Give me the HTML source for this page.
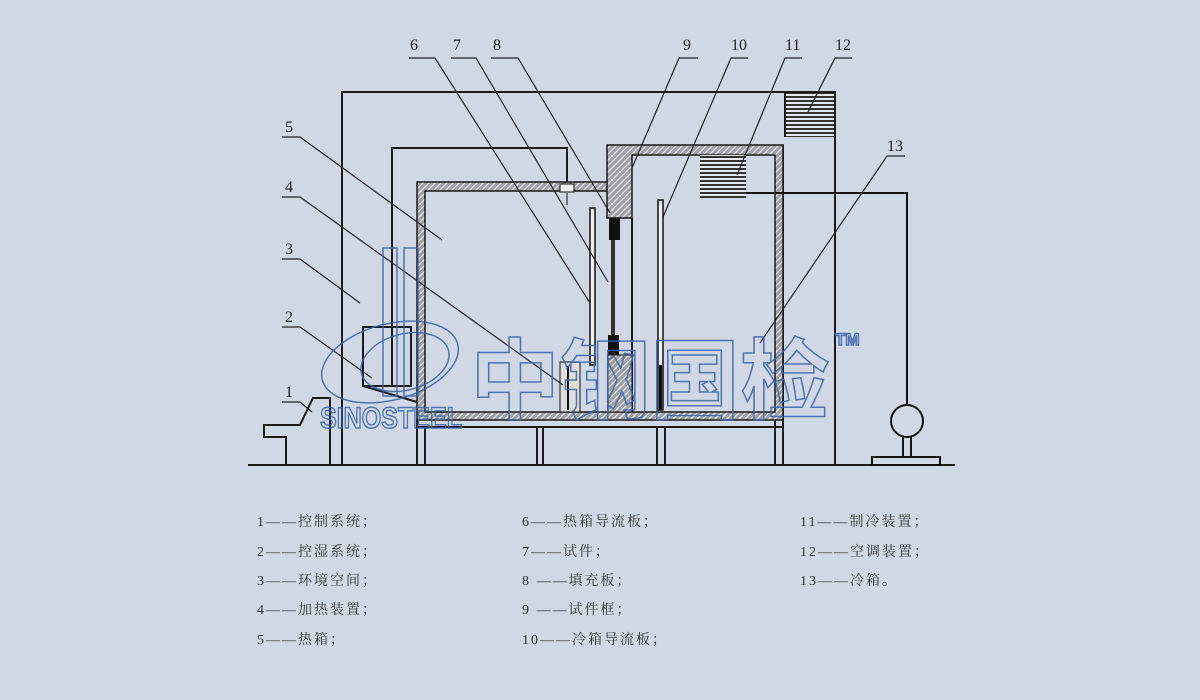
<!DOCTYPE html>
<html><head><meta charset="utf-8"><style>
body{margin:0;background:#d0d8e5;}
svg{display:block}
.t{font-family:"Liberation Serif","Noto Serif CJK SC",serif;fill:#222}
.lg{font-family:"Liberation Serif","Noto Serif CJK SC",serif;fill:#333;font-size:14px;letter-spacing:2px}
</style></head><body>
<svg width="1200" height="700" viewBox="0 0 1200 700" xmlns="http://www.w3.org/2000/svg">
<defs>
<pattern id="h" width="6" height="6" patternUnits="userSpaceOnUse">
<rect width="6" height="6" fill="#9a9ea6"/><path d="M0 6L6 0M-1 1L1 -1M5 7L7 5" stroke="#f0f0f0" stroke-width="1.3"/>
</pattern>
<pattern id="v" width="4" height="4" patternUnits="userSpaceOnUse">
<rect width="4" height="4" fill="#e4e8ef"/><rect width="4" height="2" fill="#333"/>
</pattern>
</defs>
<rect width="1200" height="700" fill="#d0d8e5"/>
<g stroke="#1a1a1a" stroke-width="2" fill="none">
<line x1="248" y1="465" x2="955" y2="465"/>
<polyline points="342,465 342,92 835,92 835,465"/>
<polyline points="286,465 286,437 264,437 264,425 300,425 313,398 328,398 330,398 330,465"/>
<polyline points="392,385 392,148 567,148 567,182"/>
<rect x="363" y="327" width="48" height="59"/>
<line x1="363" y1="386" x2="417" y2="402"/>
<line x1="417" y1="427" x2="783" y2="427"/>
<line x1="417" y1="420" x2="417" y2="465"/><line x1="425" y1="427" x2="425" y2="465"/>
<line x1="537" y1="427" x2="537" y2="465"/><line x1="543" y1="427" x2="543" y2="465"/>
<line x1="657" y1="427" x2="657" y2="465"/><line x1="665" y1="427" x2="665" y2="465"/>
<line x1="775" y1="420" x2="775" y2="465"/><line x1="783" y1="145" x2="783" y2="465"/>
</g>
<g fill="url(#h)" stroke="#1a1a1a" stroke-width="1.5">
<path d="M417,182 H607 V191 H425 V412 H775 V155 H632 V218 H607 V145 H783 V420 H417 Z"/>
</g>
<line x1="632" y1="218" x2="632" y2="412" stroke="#1a1a1a" stroke-width="2"/>
<rect x="560" y="184" width="14" height="8" fill="#eee" stroke="#111"/>
<line x1="567" y1="193" x2="567" y2="205" stroke="#111"/>
<rect x="590" y="208" width="5" height="157" fill="#eee" stroke="#111" stroke-width="1.5"/>
<rect x="609" y="218" width="11" height="22" fill="#111"/>
<rect x="611" y="240" width="4" height="95" fill="#333"/>
<rect x="608" y="335" width="11" height="20" fill="#111"/>
<rect x="608" y="355" width="24" height="57" fill="url(#h)" stroke="#111"/>
<rect x="560" y="362" width="20" height="50" fill="#ddd" stroke="#111"/>
<line x1="568" y1="366" x2="568" y2="410" stroke="#111" stroke-width="2"/>
<rect x="658" y="200" width="5" height="210" fill="#eee" stroke="#111" stroke-width="1.5"/>
<rect x="659" y="365" width="3" height="45" fill="#111"/>
<rect x="786" y="93" width="48" height="44" fill="url(#v)"/>
<line x1="785" y1="93" x2="785" y2="137" stroke="#111" stroke-width="2"/>
<rect x="700" y="155" width="46" height="43" fill="url(#v)"/>
<polyline points="746,193 907,193 907,405" fill="none" stroke="#111" stroke-width="2"/>
<circle cx="907" cy="421" r="16" fill="none" stroke="#111" stroke-width="2"/>
<line x1="903" y1="437" x2="903" y2="457" stroke="#111" stroke-width="2"/>
<line x1="911" y1="437" x2="911" y2="457" stroke="#111" stroke-width="2"/>
<rect x="872" y="457" width="68" height="8" fill="none" stroke="#111" stroke-width="2"/>
<g stroke="#222" stroke-width="1.2" fill="none">
<polyline points="409,58 435,58 590,303"/>
<polyline points="451,58 476,58 608,282"/>
<polyline points="491,58 518,58 610,213"/>
<polyline points="698,58 679,58 632,168"/>
<polyline points="748,58 731,58 663,217"/>
<polyline points="802,58 785,58 737,175"/>
<polyline points="852,58 835,58 808,112"/>
<polyline points="905,156 887,156 760,343"/>
<polyline points="282,137 300,137 442,240"/>
<polyline points="282,197 300,197 563,385"/>
<polyline points="282,259 300,259 360,303"/>
<polyline points="282,327 300,327 372,378"/>
<polyline points="282,402 300,402 312,412"/>
</g>
<g class="t" font-size="16">
<text x="410" y="50">6</text><text x="453" y="50">7</text><text x="493" y="50">8</text>
<text x="683" y="50">9</text><text x="731" y="50">10</text><text x="785" y="50">11</text><text x="835" y="50">12</text>
<text x="887" y="151">13</text>
<text x="285" y="132">5</text><text x="285" y="192">4</text><text x="285" y="254">3</text><text x="285" y="322">2</text><text x="285" y="397">1</text>
</g>
<g fill="none" stroke="#3a62a8" stroke-width="1.5" opacity="0.85">
<ellipse cx="390" cy="362" rx="70" ry="38" transform="rotate(-15 390 362)"/>
<ellipse cx="405" cy="362" rx="45" ry="28" transform="rotate(-15 405 362)"/>
<rect x="383" y="248" width="14" height="148"/>
<rect x="404" y="248" width="14" height="148"/>
<text x="470" y="412" font-family="Noto Sans CJK SC,sans-serif" font-weight="bold" font-size="88" textLength="360" lengthAdjust="spacingAndGlyphs">中钢国检</text>
<text x="320" y="428" font-family="Liberation Sans,sans-serif" font-weight="bold" font-size="30" textLength="142" lengthAdjust="spacingAndGlyphs">SINOSTEEL</text>
<text x="835" y="345" font-family="Liberation Sans,sans-serif" font-weight="bold" font-size="17">TM</text>
</g>
<g class="lg">
<text x="257" y="526">1——控制系统；</text>
<text x="257" y="556">2——控湿系统；</text>
<text x="257" y="585">3——环境空间；</text>
<text x="257" y="614">4——加热装置；</text>
<text x="257" y="644">5——热箱；</text>
<text x="522" y="526">6——热箱导流板；</text>
<text x="522" y="556">7——试件；</text>
<text x="522" y="585">8 ——填充板；</text>
<text x="522" y="614">9 ——试件框；</text>
<text x="522" y="644">10——冷箱导流板；</text>
<text x="800" y="526">11——制冷装置；</text>
<text x="800" y="556">12——空调装置；</text>
<text x="800" y="585">13——冷箱。</text>
</g>
</svg>
</body></html>
